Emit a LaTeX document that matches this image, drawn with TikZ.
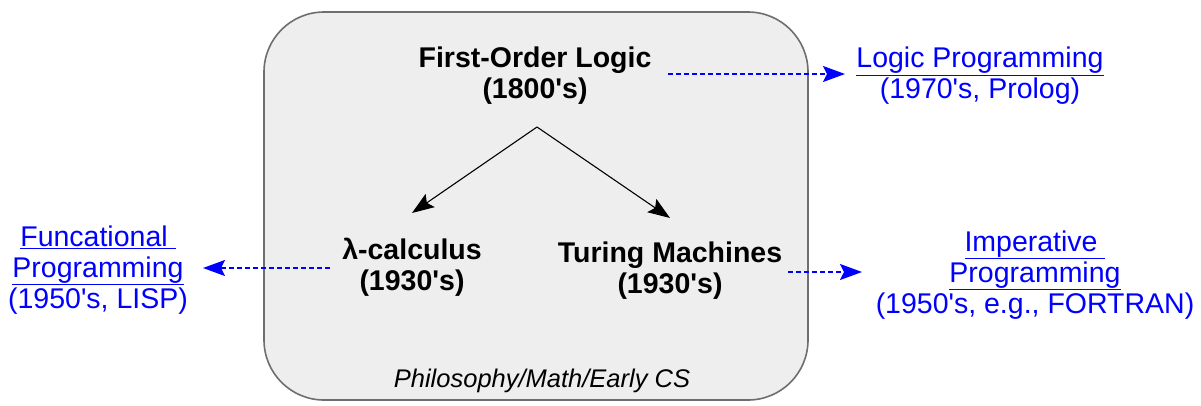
\documentclass[tikz,border=0pt]{standalone}
\usepackage{fontspec}
\setmainfont{Liberation Sans}
\usetikzlibrary{arrows.meta}
\definecolor{boxfill}{HTML}{EEEEEE}
\definecolor{boxline}{HTML}{6E6E6E}
\definecolor{linkblue}{HTML}{0000FF}
\newcommand{\apo}{\textquotesingle}
\begin{document}
\begin{tikzpicture}[x=1pt,y=-1pt,
  txt/.style={align=center,inner sep=0pt,font=\fontsize{28.5}{31}\selectfont},
  bold/.style={txt,font=\fontsize{28.5}{31}\selectfont\bfseries},
  link/.style={txt,text=linkblue},
  solidarrow/.style={draw=black,line width=1.1pt,-{Stealth[length=22pt,width=16pt,inset=4pt]}},
  linkarrow/.style={draw=linkblue,line width=1.5pt,dash pattern=on 5pt off 3pt,-{Stealth[length=22pt,width=16pt,inset=4pt]}}]
\useasboundingbox (0,0) rectangle (1201,405);
\node[draw=boxline,fill=boxfill,line width=1.6pt,rounded corners=60pt,minimum width=544pt,minimum height=388pt,inner sep=0pt] (box) at (536,206) {};
\node[bold] (fol) at (535,76) {First-Order Logic\\(1800\apo s)};
\node[bold] (lam) at (412,267) {λ-calculus\\(1930\apo s)};
\node[bold] (tur) at (670,271) {Turing Machines\\(1930\apo s)};
\node[txt,font=\fontsize{25.5}{30}\selectfont\itshape] (cap) at (542,381) {Philosophy/Math/Early CS};
\node[link] (logic) at (980,76) {\underline{Logic Programming}\\(1970\apo s, Prolog)};
\node[link] (func) at (98,270) {\underline{Funcational\ }\\\underline{Programming}\\(1950\apo s, LISP)};
\node[link] (imp) at (1035,275) {\underline{Imperative\ }\\\underline{Programming}\\(1950\apo s, e.g., FORTRAN)};
\coordinate (split) at (537,127);
\coordinate (lamtip) at (412,213);
\coordinate (turtip) at (670,218);
\draw[solidarrow] (split) -- (lamtip);
\draw[solidarrow] (split) -- (turtip);
\draw[linkarrow] (668,74) -- (845,74);
\draw[linkarrow] (330,268) -- (203,268);
\draw[linkarrow] (788,272) -- (862,272);
\end{tikzpicture}
\end{document}
